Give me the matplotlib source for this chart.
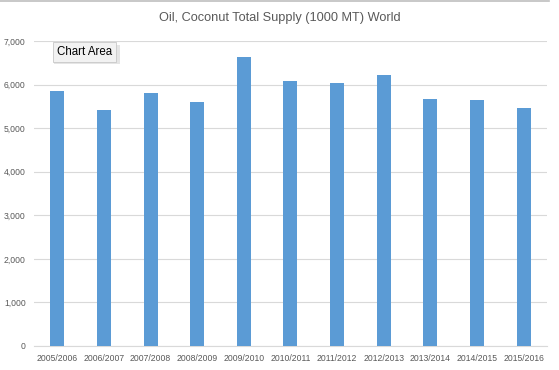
import matplotlib
matplotlib.use("Agg")
import matplotlib.pyplot as plt
from matplotlib.lines import Line2D
from matplotlib.patches import Rectangle

# data
seasons = ["2005/2006", "2006/2007", "2007/2008", "2008/2009", "2009/2010",
           "2010/2011", "2011/2012", "2012/2013", "2013/2014", "2014/2015",
           "2015/2016"]
supply = [5860, 5425, 5810, 5610, 6640, 6090, 6045, 6230, 5680, 5655, 5470]
yticks = [0, 1000, 2000, 3000, 4000, 5000, 6000, 7000]

plt.rcParams['font.family'] = ['Liberation Sans', 'DejaVu Sans']

W, H = 559, 370
fig = plt.figure(figsize=(W / 100, H / 100), dpi=100)
ax = fig.add_axes([0.0608, 0.0649, 0.9177, 0.8241])

x = range(len(seasons))
ax.bar(x, supply, width=0.3, color="#5B9BD5", zorder=3)

ax.set_xlim(-0.5, len(seasons) - 0.5)
ax.set_ylim(0, 7000)
ax.set_yticks(yticks)
ax.set_yticklabels([f"{v:,}" for v in yticks])
ax.set_xticks(list(x))
ax.set_xticklabels(seasons)

ax.grid(axis="y", color="#D9D9D9", linewidth=0.8, zorder=0)
for s in ["top", "right", "left"]:
    ax.spines[s].set_visible(False)
ax.spines["bottom"].set_color("#D9D9D9")
ax.spines["bottom"].set_linewidth(0.8)
ax.tick_params(axis="both", length=0, labelsize=6.2, colors="#595959")
ax.tick_params(axis="y", pad=6)
ax.tick_params(axis="x", pad=6)

fig.text(0.5, 1 - 18 / H, "Oil, Coconut Total Supply (1000 MT) World",
         ha="center", va="center", fontsize=9.2, color="#595959")

# thin border line at the very top
fig.add_artist(Line2D([0, 549 / W], [0.998, 0.998], color="#BFBFBF",
                      linewidth=1.2, transform=fig.transFigure))

# "Chart Area" hover tooltip with a soft shadow
fig.add_artist(Rectangle((54 / W, 1 - 64 / H), 66 / W, 19 / H,
                         transform=fig.transFigure, facecolor="#CCCCCC",
                         edgecolor="none", alpha=0.5, zorder=4))
fig.text(57 / W, 1 - 52 / H, "Chart Area", ha="left", va="center",
         fontsize=8.3, color="black", zorder=5,
         bbox=dict(boxstyle="square,pad=0.35", facecolor="#F2F2F2",
                   edgecolor="#C8C8C8", linewidth=0.6))

fig.savefig("out.png", dpi=100)
